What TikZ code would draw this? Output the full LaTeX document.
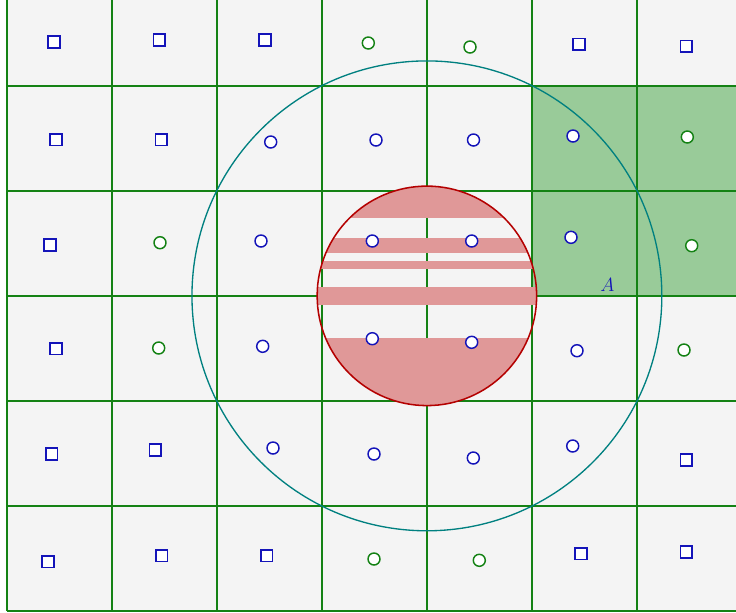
\documentclass[tikz,border=0pt]{standalone}
\definecolor{bggrey}{RGB}{244,244,244}
\definecolor{gridgreen}{RGB}{20,130,20}
\definecolor{cellgreen}{RGB}{153,203,153}
\definecolor{tealc}{RGB}{0,128,128}
\definecolor{redc}{RGB}{180,0,0}
\definecolor{pinkc}{RGB}{224,152,152}
\definecolor{bluec}{RGB}{20,20,185}
\begin{document}
\begin{tikzpicture}[x=0.75pt,y=-0.75pt,
 sqm/.style={rectangle,draw=bluec,fill=white,line width=1.1pt,minimum size=8.8pt,inner sep=0pt},
 bcm/.style={circle,draw=bluec,fill=white,line width=1.1pt,minimum size=9pt,inner sep=0pt},
 gcm/.style={circle,draw=gridgreen,fill=white,line width=1.1pt,minimum size=9pt,inner sep=0pt},
 gridline/.style={draw=gridgreen,line width=1.25pt}]
\useasboundingbox (0,0) rectangle (736,612);
\clip (0,0) rectangle (736,612);
\fill[white] (0,0) rectangle (736,612);
\fill[bggrey] (6.7,-19.3) rectangle (742.05,611);
\fill[cellgreen] (531.95,85.75) rectangle (742.05,295.85);
\foreach \i in {0,...,7} \draw[gridline] ({6.7+105.05*\i},-19.3) -- ({6.7+105.05*\i},611);
\foreach \j in {0,...,6} \draw[gridline] (6.7,{611-105.05*\j}) -- (742.05,{611-105.05*\j});
\coordinate (O) at (426.9,295.85);
\draw[tealc,line width=1pt] (O) circle[radius=176.2pt];
\begin{scope}
\clip (O) circle[radius=82.3pt];
\fill[pinkc] (300,170) rectangle (560,218.3);
\fill[pinkc] (300,238) rectangle (560,253);
\fill[pinkc] (300,260.7) rectangle (560,269.3);
\fill[pinkc] (300,286.7) rectangle (560,304.7);
\fill[pinkc] (300,338.3) rectangle (560,420);
\end{scope}
\draw[redc,line width=1.15pt] (O) circle[radius=82.3pt];
% row 1
\node[sqm] (m11) at (54,42) {};
\node[sqm] (m12) at (159.3,40) {};
\node[sqm] (m13) at (265,40) {};
\node[gcm] (m14) at (368.3,43) {};
\node[gcm] (m15) at (470,47) {};
\node[sqm] (m16) at (579,44.3) {};
\node[sqm] (m17) at (686.3,46.3) {};
% row 2
\node[sqm] (m21) at (56,139.7) {};
\node[sqm] (m22) at (161.3,139.7) {};
\node[bcm] (m23) at (270.7,142) {};
\node[bcm] (m24) at (376,140) {};
\node[bcm] (m25) at (473.5,140) {};
\node[bcm] (m26) at (573,136) {};
\node[gcm] (m27) at (687.3,137) {};
% row 3
\node[sqm] (m31) at (50,245) {};
\node[gcm] (m32) at (160,242.7) {};
\node[bcm] (m33) at (261,241) {};
\node[bcm] (m34) at (372.3,241) {};
\node[bcm] (m35) at (471.7,241) {};
\node[bcm] (m36) at (571,237.3) {};
\node[gcm] (m37) at (691.7,245.7) {};
% row 4
\node[sqm] (m41) at (56,348.7) {};
\node[gcm] (m42) at (158.7,348) {};
\node[bcm] (m43) at (262.7,346.3) {};
\node[bcm] (m44) at (372.3,338.7) {};
\node[bcm] (m45) at (471.7,342.3) {};
\node[bcm] (m46) at (577,350.7) {};
\node[gcm] (m47) at (684,350) {};
% row 5
\node[sqm] (m51) at (51.7,454) {};
\node[sqm] (m52) at (155.3,450) {};
\node[bcm] (m53) at (273,448) {};
\node[bcm] (m54) at (374,454) {};
\node[bcm] (m55) at (473.3,458) {};
\node[bcm] (m56) at (572.7,446) {};
\node[sqm] (m57) at (686.3,460) {};
% row 6
\node[sqm] (m61) at (48,561.7) {};
\node[sqm] (m62) at (161.7,555.7) {};
\node[sqm] (m63) at (266.7,555.7) {};
\node[gcm] (m64) at (374,559) {};
\node[gcm] (m65) at (479.3,560.3) {};
\node[sqm] (m66) at (581,553.7) {};
\node[sqm] (m67) at (686.3,552) {};
\node[text=bluec,font=\Large,inner sep=0pt] (A) at (607.3,285) {$A$};
\end{tikzpicture}
\end{document}
